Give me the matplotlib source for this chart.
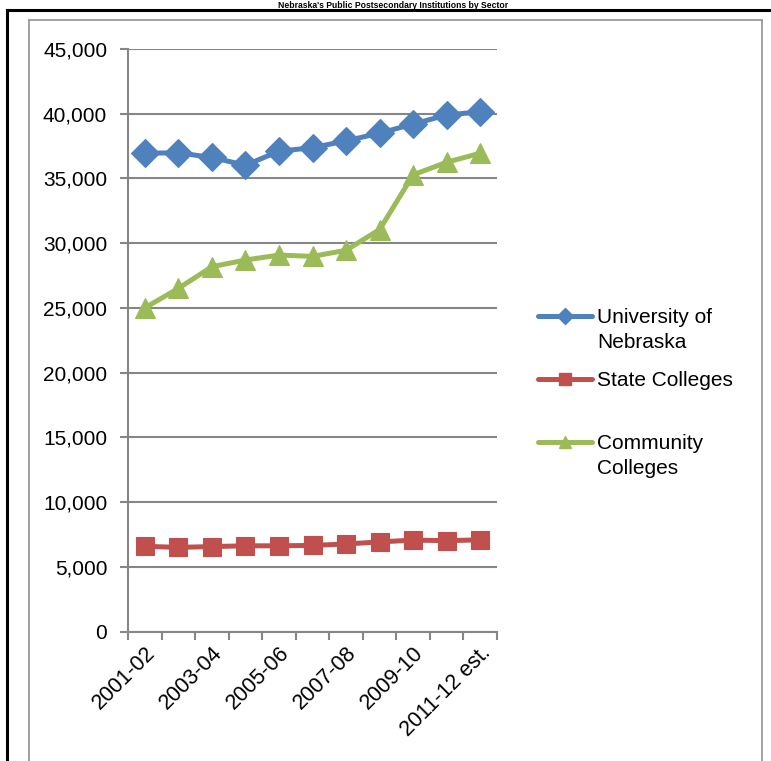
import matplotlib
matplotlib.use("Agg")
import matplotlib.pyplot as plt
from matplotlib.lines import Line2D
import numpy as np

plt.rcParams['font.family'] = ['Liberation Sans', 'DejaVu Sans']

categories = ["2001-02", "2002-03", "2003-04", "2004-05", "2005-06", "2006-07",
              "2007-08", "2008-09", "2009-10", "2010-11", "2011-12 est."]
university = [36950, 36980, 36620, 36020, 37100, 37380, 37900, 38500, 39200, 39900, 40150]
state = [6580, 6500, 6560, 6620, 6620, 6650, 6760, 6920, 7060, 7020, 7080]
community = [25000, 26500, 28180, 28700, 29080, 28980, 29450, 31050, 35280, 36250, 36950]
series_names = ["University of\nNebraska", "State Colleges", "Community\nColleges"]
colors = ["#4F81BD", "#C0504D", "#9BBB59"]
markers = ["D", "s", "^"]
yticks = list(range(0, 45001, 5000))
title = "Nebraska's Public Postsecondary Institutions by Sector"

W, H = 771, 761
fig = plt.figure(figsize=(W / 100, H / 100), dpi=100)

# Frames
fig.add_artist(Line2D([7 / W, 7 / W], [0, 1 - 9.5 / H], color="black", lw=2.2))
fig.add_artist(Line2D([7 / W, 1], [1 - 9.5 / H, 1 - 9.5 / H], color="black", lw=2.2))
fig.add_artist(Line2D([29 / W, 29 / W], [0, 1 - 20 / H], color="#9a9a9a", lw=1.3))
fig.add_artist(Line2D([29 / W, 762 / W], [1 - 20 / H, 1 - 20 / H], color="#9a9a9a", lw=1.3))
fig.add_artist(Line2D([762 / W, 762 / W], [0, 1 - 20 / H], color="#9a9a9a", lw=1.3))

# Title (squeezed into the strip above the frame)
fig.text(393 / W, 1 - 0.5 / H, title, ha="center", va="top", fontsize=6.2, fontweight="bold")

left, right = 128 / W, 497 / W
bottom, top = 1 - 631.5 / H, 1 - 49 / H
ax = fig.add_axes([left, bottom, right - left, top - bottom])

x = np.arange(len(categories))
for vals, c, m in zip([university, state, community], colors, markers):
    ms = 14 if m == "D" else (13.5 if m == "s" else 15)
    ax.plot(x, vals, color=c, lw=3.6, marker=m, markersize=ms,
            markerfacecolor=c, markeredgecolor=c, markeredgewidth=0.8,
            solid_capstyle="round", clip_on=False, zorder=3)

ax.set_xlim(-0.5, len(categories) - 0.5)
ax.set_ylim(0, 45000)
ax.set_yticks(yticks)
ax.set_yticklabels([f"{v:,}" for v in yticks], fontsize=15)
ax.yaxis.grid(True, color="#868686", lw=1.5)
ax.set_axisbelow(True)

ax.set_xticks(x[::2])
ax.set_xticklabels(categories[::2], rotation=45, ha="right", rotation_mode="anchor", fontsize=15.5)
ax.set_xticks(np.arange(-0.5, len(categories)), minor=True)
ax.tick_params(axis="x", which="major", length=0, pad=8)
ax.tick_params(axis="x", which="minor", length=6, width=1.5, color="#868686", direction="out")
ax.tick_params(axis="y", length=6, width=1.5, color="#868686", pad=9)

for s in ["top", "right"]:
    ax.spines[s].set_visible(False)
for s in ["left", "bottom"]:
    ax.spines[s].set_color("#868686")
    ax.spines[s].set_linewidth(1.5)

# Legend drawn by hand
leg_y = [316, 379, 442]
for c, m, name, yy in zip(colors, markers, series_names, leg_y):
    yf = 1 - yy / H
    fig.add_artist(Line2D([538 / W, 592 / W], [yf, yf], color=c, lw=3.6,
                          solid_capstyle="round"))
    fig.add_artist(Line2D([565 / W], [yf], color=c, marker=m, markersize=8,
                          markerfacecolor=c, markeredgecolor=c, lw=0))
    if "\n" in name:
        fig.text(597 / W, 1 - (yy - 8) / H, name, ha="left", va="top",
                 fontsize=15, linespacing=1.38)
    else:
        fig.text(597 / W, yf, name, ha="left", va="center_baseline", fontsize=15)

fig.savefig("out.png", dpi=100)
